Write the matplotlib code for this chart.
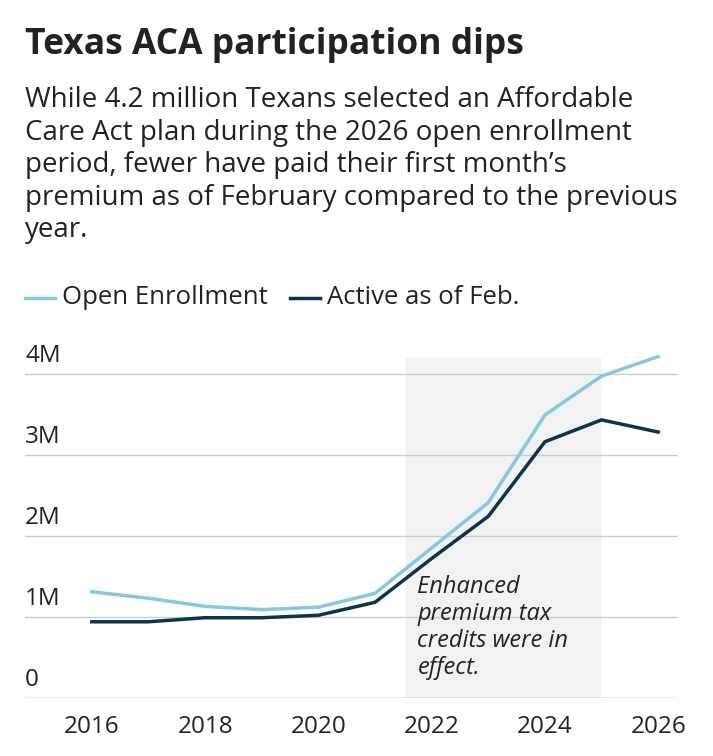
import matplotlib.pyplot as plt
from matplotlib.lines import Line2D

plt.rcParams['font.family'] = ['Open Sans', 'DejaVu Sans']

# === Data ===
years = [2016, 2017, 2018, 2019, 2020, 2021, 2022, 2023, 2024, 2025, 2026]
open_enrollment = [1.31, 1.23, 1.13, 1.09, 1.12, 1.29, 1.85, 2.41, 3.49, 3.97, 4.21]
active_feb = [0.94, 0.94, 0.99, 0.99, 1.02, 1.18, 1.72, 2.24, 3.16, 3.43, 3.28]
y_ticks = [0, 1, 2, 3, 4]
y_labels = ["0", "1M", "2M", "3M", "4M"]
x_ticks = [2016, 2018, 2020, 2022, 2024, 2026]

light = "#86c8e0"
dark = "#0c3549"
txt = "#222222"

W, H = 713, 756
fig = plt.figure(figsize=(W / 100, H / 100), dpi=100)

# axes box in pixels: left 25, right 678, top 355, bottom 698
ax = fig.add_axes([25 / W, 1 - 698 / H, (678 - 25) / W, (698 - 355) / H])
ax.set_xlim(2014.82, 2026.35)
ax.set_ylim(0, 4.23)

ax.axvspan(2021.55, 2024.98, ymax=(698 - 358) / 343, color="#f2f2f2", zorder=0)
for t, lab in zip(y_ticks, y_labels):
    ax.axhline(t, color="#cccccc" if t else "#999999", lw=1, zorder=1)
    ax.text(2014.82, t + 0.07, lab, fontsize=17.5, color=txt,
            va="bottom", ha="left")

ax.plot(years, open_enrollment, color=light, lw=2.5, zorder=3)
ax.plot(years, active_feb, color=dark, lw=2.5, zorder=4)

ax.text(2021.75, 1.52, "Enhanced\npremium tax\ncredits were in\neffect.",
        fontsize=17, style="italic", color=txt, va="top", ha="left",
        linespacing=1.18)

ax.set_xticks(x_ticks)
ax.set_xticklabels([str(x) for x in x_ticks], fontsize=17.5, color=txt)
ax.tick_params(axis="x", length=0, pad=12)
ax.set_yticks([])
for s in ax.spines.values():
    s.set_visible(False)

# === Titles ===
fig.text(25 / W, 1 - 45 / H, "Texas ACA participation dips", fontsize=25.5,
         fontweight="bold", color=txt, va="center", ha="left")
fig.text(25 / W, 1 - 86 / H,
         "While 4.2 million Texans selected an Affordable\n"
         "Care Act plan during the 2026 open enrollment\n"
         "period, fewer have paid their first month\u2019s\n"
         "premium as of February compared to the previous\n"
         "year.", fontsize=20, color=txt, va="top", ha="left",
         linespacing=1.22)

# === Legend ===
ly = 1 - 298 / H
fig.add_artist(Line2D([25 / W, 55 / W], [ly, ly], color=light, lw=2.5))
fig.text(62 / W, ly, "Open Enrollment", fontsize=18.5, color=txt, va="center")
fig.add_artist(Line2D([290 / W, 320 / W], [ly, ly], color=dark, lw=2.5))
fig.text(327 / W, ly, "Active as of Feb.", fontsize=18.5, color=txt, va="center")

fig.savefig("out.png", dpi=100)
